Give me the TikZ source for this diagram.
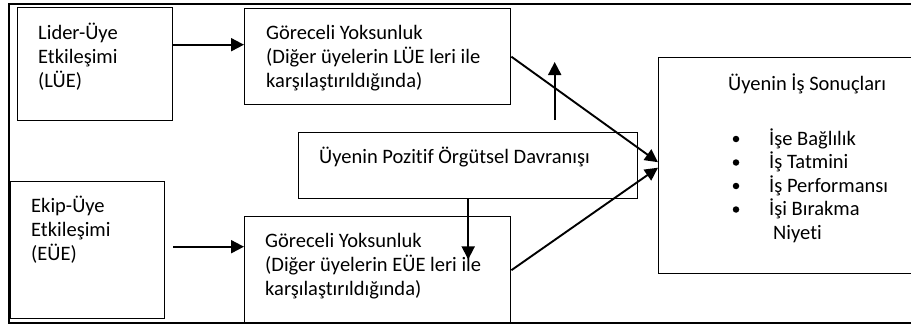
\documentclass[tikz,border=0pt]{standalone}
\usepackage{fontspec}
\setmainfont{Carlito}[Ligatures=NoCommon]
\usetikzlibrary{arrows.meta}
\begin{document}
\begin{tikzpicture}[x=1pt,y=-1pt,
  box/.style={draw,line width=1.4pt,rectangle,inner sep=0pt,anchor=north west},
  txt/.style={inner sep=0pt,anchor=north west,align=left,
    font=\fontsize{20.5}{24}\selectfont},
  item/.style={inner sep=0pt,anchor=base west,font=\fontsize{20.5}{24}\selectfont},
  dot/.style={circle,fill,inner sep=0pt,minimum size=6.5pt},
  arr/.style={line width=1.9pt,-{Triangle[length=13pt,width=13pt]}}]
\useasboundingbox (0,0) rectangle (911,324);
% outer frame (its right side runs past the page edge)
\draw[line width=1.4pt] (935,4) -- (9,4) -- (9,323) -- (935,323);

% boxes
\node[box,minimum width=155pt,minimum height=113pt] (lue) at (17,7) {};
\node[box,minimum width=266pt,minimum height=96pt] (gr1) at (244,8) {};
\node[box,minimum width=339pt,minimum height=66pt] (poz) at (298,132) {};
\node[box,minimum width=270pt,minimum height=216pt] (out) at (658,57) {};
\node[box,minimum width=154pt,minimum height=137pt] (eue) at (10,181) {};
\node[box,minimum width=266pt,minimum height=107pt] (gr2) at (244,216) {};

% texts
\node[txt] (tlue) at (38,22) {\strut Lider-Üye\\Etkileşimi\\(LÜE)};
\node[txt] (tgr1) at (266,22) {\strut Göreceli Yoksunluk\\(Diğer üyelerin LÜE leri ile\\karşılaştırıldığında)};
\node[item] (tpoz) at (319,163) {Üyenin Pozitif Örgütsel Davranışı};
\node[txt] (teue) at (31,195) {\strut Ekip-Üye\\Etkileşimi\\(EÜE)};
\node[txt] (tgr2) at (265,230) {\strut Göreceli Yoksunluk\\(Diğer üyelerin EÜE leri ile\\karşılaştırıldığında)};

\node[item] (tout) at (728,90) {Üyenin İş Sonuçları};
\node[item] (i1) at (769,145) {İşe Bağlılık};
\node[item] (i2) at (769,168.5) {İş Tatmini};
\node[item] (i3) at (769,192) {İş Performansı};
\node[item] (i4) at (769,215.5) {İşi Bırakma};
\node[item] (i5) at (773,239) {Niyeti};
\node[dot] (d1) at (736,139) {};
\node[dot] (d2) at (736,162.5) {};
\node[dot] (d3) at (736,186) {};
\node[dot] (d4) at (736,209.5) {};

% connectors
\draw[arr] ([yshift=19.5pt]lue.east) -- ([yshift=12pt]gr1.west);
\draw[arr] ([xshift=8pt,yshift=3.5pt]eue.east) -- ([yshift=23.5pt]gr2.west);
\draw[arr] (gr1.east) -- ([yshift=3.5pt]out.west);
\draw[arr] (gr2.east) -- ([yshift=-2pt]out.west);
\draw[arr] ([xshift=86.5pt,yshift=12pt]poz.north) -- ([xshift=86.5pt,yshift=70pt]poz.north);
\draw[arr] (poz.south) -- ([yshift=-60pt]poz.south);
\end{tikzpicture}
\end{document}
